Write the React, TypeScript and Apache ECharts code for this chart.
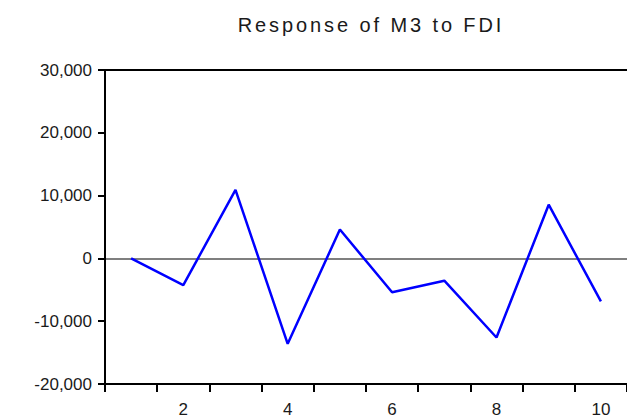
import React, { useEffect, useRef } from "react";
import * as echarts from "echarts";

const titleText = "Response of M3 to FDI";
const periods = ["1", "2", "3", "4", "5", "6", "7", "8", "9", "10"];
const responseValues = [0, -4250, 10900, -13600, 4600, -5400, -3550, -12600, 8550, -6850];
const yMin = -20000;
const yMax = 30000;
const yStep = 10000;

export default function App() {
  const ref = useRef<HTMLDivElement>(null);
  useEffect(() => {
    if (!ref.current) return;
    const chart = echarts.init(ref.current, undefined, { renderer: "svg" });
    const font = "Arial, 'Liberation Sans', sans-serif";
    chart.setOption({
      animation: false,
      backgroundColor: "#ffffff",
      title: {
        text: titleText,
        left: 366,
        top: 10,
        textAlign: "center",
        textStyle: { fontFamily: font, fontSize: 20, fontWeight: "normal", color: "#1a1a1a" },
      },
      grid: { left: 105, right: -2, top: 70, bottom: 36, containLabel: false },
      xAxis: [
        {
          type: "category",
          data: periods,
          boundaryGap: true,
          axisLine: { show: true, onZero: false, lineStyle: { color: "#000", width: 2 } },
          axisTick: { show: true, interval: 0, length: 8, lineStyle: { color: "#000", width: 2 } },
          axisLabel: {
            interval: (i: number) => i % 2 === 1,
            margin: 17,
            fontFamily: font,
            fontSize: 17,
            color: "#1a1a1a",
          },
          splitLine: { show: false },
        },
        {
          type: "category",
          data: periods,
          position: "top",
          axisLine: { show: true, onZero: false, lineStyle: { color: "#000", width: 2 } },
          axisTick: { show: false },
          axisLabel: { show: false },
          splitLine: { show: false },
        },
      ],
      yAxis: {
        type: "value",
        min: yMin,
        max: yMax,
        interval: yStep,
        axisLine: { show: true, lineStyle: { color: "#000", width: 2 } },
        axisTick: { show: true, length: 7, lineStyle: { color: "#000", width: 2 } },
        axisLabel: {
          margin: 13,
          fontFamily: font,
          fontSize: 17,
          color: "#1a1a1a",
          formatter: (v: number) => v.toLocaleString("en-US"),
        },
        splitLine: {
          show: true,
          lineStyle: {
            color: ["rgba(0,0,0,0)", "rgba(0,0,0,0)", "#555555", "rgba(0,0,0,0)", "rgba(0,0,0,0)", "rgba(0,0,0,0)"],
            width: 1.5,
          },
        },
      },
      series: [
        {
          type: "line",
          xAxisIndex: 0,
          data: responseValues,
          showSymbol: false,
          symbol: "none",
          lineStyle: { color: "#0000ff", width: 2.5 },
          z: 3,
        },
      ],
    });
    const texts = ref.current.querySelectorAll("text");
    texts.forEach((t) => {
      if (t.textContent === titleText) {
        (t as SVGTextElement).style.letterSpacing = "2.9px";
      }
    });
    return () => chart.dispose();
  }, []);
  return <div ref={ref} style={{ width: 627, height: 420, position: "absolute", left: 0, top: 0 }} />;
}
